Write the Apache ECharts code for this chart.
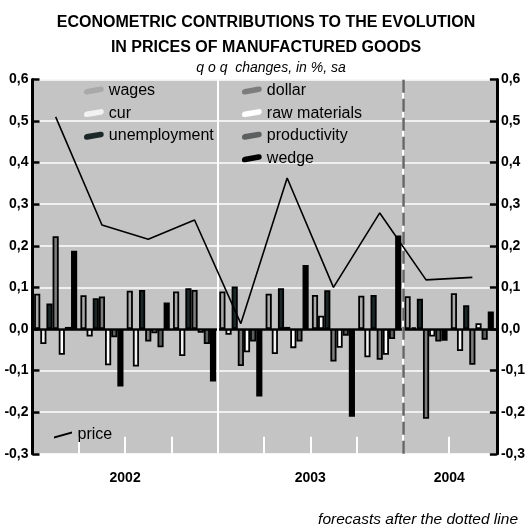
<!DOCTYPE html>
<html>
<head>
<meta charset="utf-8">
<style>html,body{margin:0;padding:0;background:#fff;}#c{width:528px;height:528px;}</style>
<script src="https://cdn.jsdelivr.net/npm/echarts@6/dist/echarts.min.js"></script>
</head>
<body>
<div id="c"></div>
<script>
// ---- data ----
const categories = ['2002 Q1','2002 Q2','2002 Q3','2002 Q4','2003 Q1','2003 Q2','2003 Q3','2003 Q4','2004 Q1','2004 Q2'];
const forecastStart = '2004 Q1';
const wages        = [0.085, 0.081, 0.092, 0.090, 0.090, 0.085, 0.082, 0.080, 0.079, 0.086];
const cur          = [-0.036, -0.018, -0.090, -0.065, -0.014, -0.060, 0.032, -0.068, 0.004, -0.053];
const unemployment = [0.061, 0.074, 0.094, 0.098, 0.102, 0.098, 0.093, 0.082, 0.073, 0.057];
const dollar       = [0.223, 0.078, -0.030, 0.094, -0.089, 0.005, -0.078, -0.074, -0.216, -0.086];
const rawMaterials = [-0.062, -0.087, -0.010, -0.009, -0.056, -0.046, -0.045, -0.062, -0.018, 0.014];
const productivity = [0.005, -0.020, -0.044, -0.036, -0.030, -0.030, -0.016, -0.024, -0.030, -0.026];
const wedge        = [0.188, -0.138, 0.064, -0.126, -0.162, 0.154, -0.211, 0.225, -0.028, 0.042];
const price        = [0.51, 0.25, 0.216, 0.262, 0.013, 0.363, 0.10, 0.279, 0.118, 0.124];
const yTicks = { min: -0.3, max: 0.6, step: 0.1 };

// ---- derived ----
const years = [];
categories.forEach((c, i) => {
  const y = c.split(' ')[0];
  const last = years[years.length - 1];
  if (!last || last.year !== y) years.push({ year: y, start: i, end: i + 1 });
  else last.end = i + 1;
});
const yearCenters = years.map(y => (y.start + y.end) / 2);
const yearBoundaries = years.slice(1).map(y => y.start);
const forecastIdx = categories.indexOf(forecastStart);
const quarterBoundaries = categories.slice(1).map((_, i) => i + 1);

const FONT = '"Liberation Sans", Arial, Helvetica, sans-serif';
const chart = echarts.init(document.getElementById('c'), null, { renderer: 'canvas' });

const barIcon = 'path://M0,5 Q0,3 2.5,2.4 L16.5,0 Q20,-0.4 20,2.2 L20,3.2 Q20,5 17.5,5.6 L3.5,8 Q0,8.4 0,6.4 Z';
const lineIcon = 'path://M0,5.4 L19,0 L19,2 L0,7.4 Z';

const barDefs = [
  ['wages', wages, '#a9a9a9'],
  ['cur', cur, '#f2f2f2'],
  ['unemployment', unemployment, '#1c2828'],
  ['dollar', dollar, '#7d7d7d'],
  ['raw materials', rawMaterials, '#ffffff'],
  ['productivity', productivity, '#5c6060'],
  ['wedge', wedge, '#000000']
];

const fmt = v => {
  const r = Math.round(v * 10) / 10;
  return (r < 0 ? '-' : '') + Math.abs(r).toFixed(1).replace('.', ',');
};

const yAxisFrame = pos => ({
  type: 'value', gridIndex: 1, position: pos,
  min: yTicks.min, max: yTicks.max, interval: yTicks.step,
  axisLine: { show: true, lineStyle: { color: '#000', width: 3 } },
  axisTick: { show: true, inside: true, length: 7, lineStyle: { color: '#000', width: 2.5 } },
  axisLabel: { formatter: fmt, color: '#000', fontSize: 14, fontWeight: 'bold', fontFamily: FONT, margin: 4 },
  splitLine: { show: pos === 'left', lineStyle: { color: '#ffffff', width: 1.5 } }
});

const legendBase = {
  orient: 'vertical', itemWidth: 20, itemHeight: 8, itemGap: 6.6,
  itemStyle: { borderWidth: 0 },
  textStyle: { fontSize: 16, color: '#000', fontFamily: FONT },
  selectedMode: false
};

const option = {
  animation: false,
  backgroundColor: '#ffffff',
  title: [
    { text: 'ECONOMETRIC CONTRIBUTIONS TO THE EVOLUTION\nIN PRICES OF MANUFACTURED GOODS',
      left: 261, top: 5, textAlign: 'center',
      textStyle: { fontSize: 16, fontWeight: 'bold', lineHeight: 25, color: '#000', fontFamily: FONT } },
    { text: 'q o q  changes, in %, sa', left: 266, top: 56, textAlign: 'center',
      textStyle: { fontSize: 14, fontWeight: 'normal', fontStyle: 'italic', color: '#000', fontFamily: FONT } },
    { text: 'forecasts after the dotted line', right: 5, top: 507,
      textStyle: { fontSize: 15.5, fontWeight: 'normal', fontStyle: 'italic', color: '#000', fontFamily: FONT } }
  ],
  legend: [
    Object.assign({}, legendBase, { data: ['wages', 'cur', 'unemployment'], left: 79, top: 77.5, icon: barIcon }),
    Object.assign({}, legendBase, { data: ['dollar', 'raw materials', 'productivity', 'wedge'], left: 237, top: 77.5, icon: barIcon }),
    Object.assign({}, legendBase, { data: ['price'], left: 49, top: 422, itemWidth: 19, itemHeight: 7, icon: lineIcon })
  ],
  grid: [
    { left: 32.5, right: 32.5, top: 79.4, bottom: 74.2, show: false },
    { left: 32.5, right: 28, top: 79.4, bottom: 74.2, show: true, backgroundColor: '#c4c4c4', borderWidth: 0 }
  ],
  xAxis: [
    { type: 'category', gridIndex: 0, data: categories, position: 'bottom',
      axisLine: { show: true, onZero: true, lineStyle: { color: '#000', width: 2.5 } },
      axisTick: { show: false }, axisLabel: { show: false }, splitLine: { show: false } },
    { type: 'value', gridIndex: 0, position: 'bottom', min: 0, max: categories.length, interval: 1,
      axisLine: { show: false, onZero: false },
      axisTick: { show: true, inside: true, length: 17, customValues: quarterBoundaries, lineStyle: { color: '#ffffff', width: 2 } },
      axisLabel: { show: true, customValues: yearCenters, margin: 17,
        formatter: v => { const k = yearCenters.indexOf(v); return k >= 0 ? years[k].year : ''; },
        color: '#000', fontSize: 14, fontWeight: 'bold', fontFamily: FONT },
      splitLine: { show: false } },
    { type: 'value', gridIndex: 1, min: 0, max: 1, show: false }
  ],
  yAxis: [
    { type: 'value', gridIndex: 0, min: yTicks.min, max: yTicks.max, interval: yTicks.step, show: false },
    yAxisFrame('left'),
    yAxisFrame('right')
  ],
  series: [
    { type: 'line', name: 'marks', xAxisIndex: 1, yAxisIndex: 0, data: [], silent: true,
      markLine: { silent: true, symbol: 'none', label: { show: false }, animation: false,
        data: yearBoundaries.map(b => ({ xAxis: b, lineStyle: { color: '#ffffff', width: 2, type: 'solid' } }))
          .concat([{ xAxis: forecastIdx, lineStyle: { color: '#666666', width: 2.5, type: [13, 6] } }]) } }
  ].concat(barDefs.map(([name, data, color]) => ({
    type: 'bar', name, data, xAxisIndex: 0, yAxisIndex: 0,
    barGap: '0%', barCategoryGap: '7%',
    itemStyle: { color, borderColor: '#000', borderWidth: 1.8 },
    z: 3
  }))).concat([
    { type: 'line', name: 'price', data: price, xAxisIndex: 0, yAxisIndex: 0,
      symbol: 'none', color: '#000', lineStyle: { color: '#000', width: 1.6 }, z: 5 }
  ])
};
chart.setOption(option);
</script>
</body>
</html>
